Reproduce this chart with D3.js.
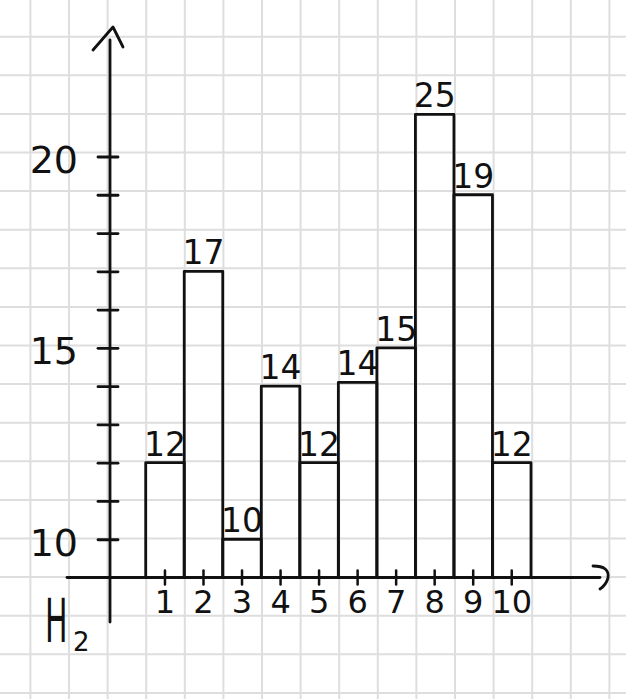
<!DOCTYPE html>
<html>
<head>
<meta charset="utf-8">
<script src="https://cdn.jsdelivr.net/npm/d3@7"></script>
<style>
  html, body { margin: 0; padding: 0; background: #fff; }
  svg { display: block; }
  text { font-family: "DejaVu Sans", sans-serif; fill: #111; }
</style>
</head>
<body>
<svg id="chart" width="626" height="699"></svg>
<script>
// ---- data ----
const categories = ["1", "2", "3", "4", "5", "6", "7", "8", "9", "10"];
const values = [12, 17, 10, 14, 12, 14.1, 15, 21.1, 19, 12];      // drawn bar heights
const barLabels = ["12", "17", "10", "14", "12", "14", "15", "25", "19", "12"]; // handwritten labels
const yTickValues = [10, 11, 12, 13, 14, 15, 16, 17, 18, 19, 20];
const yTickLabels = [10, 15, 20];
const yAxisTitle = "H";
const yAxisTitleSub = "2";

// ---- setup ----
const W = 626, H = 699;
const svg = d3.select("#chart");
const ink = "#111";

// grid paper
const gridStep = 38.6, gx0 = 30.4, gy0 = -1.9;
const grid = svg.append("g").attr("stroke", "#dedede").attr("stroke-width", 2);
grid.selectAll("line.v").data(d3.range(0, 16)).join("line")
  .attr("x1", k => gx0 + k * gridStep).attr("x2", k => gx0 + k * gridStep)
  .attr("y1", 0).attr("y2", H);
grid.selectAll("line.h").data(d3.range(0, 19)).join("line")
  .attr("y1", k => gy0 + k * gridStep).attr("y2", k => gy0 + k * gridStep)
  .attr("x1", 0).attr("x2", W);

// scales
const baseVal = 9;
const y = d3.scaleLinear().domain([baseVal, 20]).range([577.5, 156.5]);
const x = d3.scaleBand().domain(categories).range([145.7, 531]).padding(0);
const axisX = 110;
const axisY = y(baseVal);

// bars (hollow)
svg.append("g").selectAll("rect").data(values).join("rect")
  .attr("x", (d, i) => x(categories[i]))
  .attr("y", d => y(d))
  .attr("width", x.bandwidth())
  .attr("height", d => y(baseVal) - y(d))
  .attr("fill", "none")
  .attr("stroke", ink)
  .attr("stroke-width", 2.8)
  .attr("stroke-linejoin", "round");

// bar labels
svg.append("g").selectAll("text").data(values).join("text")
  .attr("x", (d, i) => x(categories[i]) + x.bandwidth() / 2)
  .attr("y", d => y(d) - 7)
  .attr("text-anchor", "middle")
  .attr("font-size", 33)
  .text((d, i) => barLabels[i]);

// y axis with ticks
const yAxis = d3.axisLeft(y)
  .tickValues(yTickValues)
  .tickSize(12)
  .tickPadding(20)
  .tickFormat(d => yTickLabels.includes(d) ? d : "");
const gy = svg.append("g").attr("transform", `translate(${axisX},0)`).call(yAxis);
gy.select(".domain").remove();
gy.selectAll(".tick line").attr("x1", 8).attr("x2", -12)
  .attr("stroke", ink).attr("stroke-width", 2.8).attr("stroke-linecap", "round");
gy.selectAll(".tick text")
  .attr("font-size", 38).attr("font-family", "DejaVu Sans, sans-serif")
  .attr("fill", ink).attr("dy", "0.42em");

// x axis with ticks
const xAxis = d3.axisBottom(x).tickSize(8).tickPadding(0);
const gx = svg.append("g").attr("transform", `translate(0,${axisY})`).call(xAxis);
gx.select(".domain").remove();
gx.selectAll(".tick line").attr("y1", -7).attr("y2", 7)
  .attr("stroke", ink).attr("stroke-width", 2.5).attr("stroke-linecap", "round");
gx.selectAll(".tick text")
  .attr("font-size", 32).attr("font-family", "DejaVu Sans, sans-serif")
  .attr("fill", ink).attr("y", 35).attr("dy", 0);

// axis shafts and arrows
const axes = svg.append("g").attr("stroke", ink).attr("stroke-width", 2.8)
  .attr("fill", "none").attr("stroke-linecap", "round").attr("stroke-linejoin", "round");
axes.append("line").attr("x1", axisX).attr("x2", axisX).attr("y1", 40).attr("y2", 622);
axes.append("line").attr("x1", 67).attr("x2", 600).attr("y1", axisY).attr("y2", axisY);
axes.append("path").attr("d", `M93,50 L113,27 L123,47`);
axes.append("path").attr("d", `M593,566 Q610,566 608,578 Q606,585 600,589`);

// y axis title H2
svg.append("text")
  .attr("transform", "translate(45,642) scale(0.5,1)")
  .attr("font-size", 60)
  .text(yAxisTitle);
svg.append("text")
  .attr("x", 73).attr("y", 651)
  .attr("font-size", 26)
  .text(yAxisTitleSub);
</script>
</body>
</html>
